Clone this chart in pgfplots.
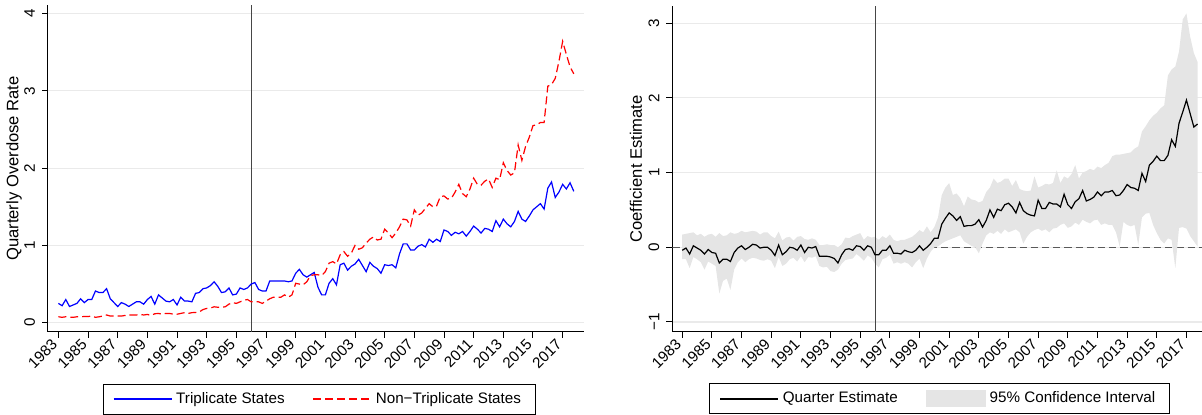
\documentclass[border=0pt]{standalone}
\usepackage{fontspec}
\setmainfont{Liberation Sans}
\usepackage{pgfplots}
\pgfplotsset{compat=1.18}
\usepackage{pgfplotstable}
\definecolor{gridgray}{RGB}{234,234,234}
\definecolor{cigray}{RGB}{229,229,229}
\definecolor{vgray}{RGB}{70,70,70}
\definecolor{sblue}{RGB}{0,0,255}
\definecolor{sred}{RGB}{255,0,0}

\pgfplotstableread{
t tri non
1983 0.25 0.077
1983.25 0.22 0.070
1983.5 0.30 0.077
1983.75 0.21 0.070
1984 0.23 0.070
1984.25 0.25 0.077
1984.5 0.31 0.077
1984.75 0.26 0.080
1985 0.30 0.080
1985.25 0.30 0.086
1985.5 0.41 0.070
1985.75 0.39 0.077
1986 0.39 0.086
1986.25 0.44 0.100
1986.5 0.31 0.086
1986.75 0.26 0.086
1987 0.21 0.086
1987.25 0.26 0.086
1987.5 0.24 0.094
1987.75 0.21 0.100
1988 0.24 0.100
1988.25 0.27 0.100
1988.5 0.27 0.107
1988.75 0.24 0.100
1989 0.30 0.107
1989.25 0.34 0.094
1989.5 0.24 0.116
1989.75 0.36 0.120
1990 0.32 0.110
1990.25 0.28 0.120
1990.5 0.27 0.120
1990.75 0.30 0.110
1991 0.23 0.110
1991.25 0.33 0.120
1991.5 0.28 0.130
1991.75 0.28 0.120
1992 0.27 0.130
1992.25 0.38 0.133
1992.5 0.39 0.140
1992.75 0.44 0.170
1993 0.45 0.185
1993.25 0.48 0.190
1993.5 0.53 0.206
1993.75 0.47 0.200
1994 0.39 0.200
1994.25 0.40 0.206
1994.5 0.45 0.240
1994.75 0.36 0.260
1995 0.37 0.250
1995.25 0.45 0.270
1995.5 0.43 0.290
1995.75 0.45 0.300
1996 0.50 0.270
1996.25 0.52 0.270
1996.5 0.43 0.270
1996.75 0.41 0.250
1997 0.41 0.280
1997.25 0.54 0.310
1997.5 0.54 0.330
1997.75 0.54 0.330
1998 0.54 0.330
1998.25 0.54 0.360
1998.5 0.53 0.330
1998.75 0.54 0.360
1999 0.64 0.510
1999.25 0.69 0.500
1999.5 0.62 0.490
1999.75 0.59 0.530
2000 0.62 0.610
2000.25 0.65 0.620
2000.5 0.46 0.620
2000.75 0.36 0.610
2001 0.36 0.660
2001.25 0.51 0.770
2001.5 0.57 0.790
2001.75 0.49 0.760
2002 0.75 0.880
2002.25 0.77 0.920
2002.5 0.68 0.860
2002.75 0.73 0.900
2003 0.76 1.000
2003.25 0.82 0.950
2003.5 0.74 0.970
2003.75 0.66 1.030
2004 0.78 1.080
2004.25 0.73 1.110
2004.5 0.70 1.070
2004.75 0.64 1.080
2005 0.75 1.210
2005.25 0.74 1.160
2005.5 0.75 1.100
2005.75 0.71 1.160
2006 0.89 1.240
2006.25 1.02 1.340
2006.5 1.02 1.330
2006.75 0.94 1.250
2007 0.94 1.460
2007.25 0.99 1.390
2007.5 1.01 1.420
2007.75 0.98 1.480
2008 1.08 1.540
2008.25 1.04 1.500
2008.5 1.08 1.510
2008.75 1.05 1.630
2009 1.20 1.640
2009.25 1.18 1.600
2009.5 1.13 1.610
2009.75 1.17 1.690
2010 1.15 1.790
2010.25 1.18 1.670
2010.5 1.12 1.630
2010.75 1.18 1.730
2011 1.25 1.870
2011.25 1.21 1.790
2011.5 1.16 1.780
2011.75 1.22 1.830
2012 1.21 1.860
2012.25 1.18 1.750
2012.5 1.32 1.870
2012.75 1.24 1.850
2013 1.34 2.070
2013.25 1.28 1.970
2013.5 1.24 1.910
2013.75 1.31 1.940
2014 1.44 2.300
2014.25 1.34 2.100
2014.5 1.31 2.280
2014.75 1.38 2.400
2015 1.46 2.550
2015.25 1.50 2.560
2015.5 1.54 2.590
2015.75 1.47 2.590
2016 1.74 3.060
2016.25 1.82 3.080
2016.5 1.62 3.160
2016.75 1.69 3.380
2017 1.79 3.640
2017.25 1.73 3.470
2017.5 1.81 3.310
2017.75 1.70 3.220
}\rates

\pgfplotstableread{
t est
1983 -0.04
1983.25 -0.01
1983.5 -0.09
1983.75 0.02
1984 -0.01
1984.25 -0.04
1984.5 -0.09
1984.75 -0.03
1985 -0.07
1985.25 -0.08
1985.5 -0.21
1985.75 -0.16
1986 -0.16
1986.25 -0.19
1986.5 -0.07
1986.75 -0.01
1987 0.02
1987.25 -0.03
1987.5 0.00
1987.75 0.04
1988 0.03
1988.25 -0.01
1988.5 0.00
1988.75 0.00
1989 -0.04
1989.25 -0.11
1989.5 0.03
1989.75 -0.10
1990 -0.06
1990.25 0.00
1990.5 -0.01
1990.75 -0.04
1991 0.03
1991.25 -0.07
1991.5 0.00
1991.75 -0.01
1992 0.01
1992.25 -0.12
1992.5 -0.12
1992.75 -0.12
1993 -0.13
1993.25 -0.15
1993.5 -0.21
1993.75 -0.10
1994 -0.03
1994.25 -0.02
1994.5 -0.04
1994.75 0.02
1995 0.01
1995.25 -0.04
1995.5 0.02
1995.75 0.00
1996 -0.10
1996.25 -0.10
1996.5 -0.04
1996.75 -0.04
1997 0.02
1997.25 -0.08
1997.5 -0.08
1997.75 -0.09
1998 -0.04
1998.25 -0.06
1998.5 -0.07
1998.75 -0.04
1999 0.02
1999.25 -0.04
1999.5 0.00
1999.75 0.05
2000 0.12
2000.25 0.12
2000.5 0.31
2000.75 0.39
2001 0.46
2001.25 0.42
2001.5 0.36
2001.75 0.41
2002 0.28
2002.25 0.29
2002.5 0.29
2002.75 0.31
2003 0.37
2003.25 0.27
2003.5 0.36
2003.75 0.50
2004 0.40
2004.25 0.51
2004.5 0.49
2004.75 0.57
2005 0.59
2005.25 0.54
2005.5 0.46
2005.75 0.60
2006 0.49
2006.25 0.45
2006.5 0.43
2006.75 0.42
2007 0.63
2007.25 0.52
2007.5 0.52
2007.75 0.60
2008 0.58
2008.25 0.58
2008.5 0.54
2008.75 0.71
2009 0.57
2009.25 0.52
2009.5 0.61
2009.75 0.65
2010 0.76
2010.25 0.62
2010.5 0.64
2010.75 0.67
2011 0.74
2011.25 0.69
2011.5 0.74
2011.75 0.74
2012 0.76
2012.25 0.69
2012.5 0.70
2012.75 0.76
2013 0.84
2013.25 0.80
2013.5 0.79
2013.75 0.76
2014 0.99
2014.25 0.88
2014.5 1.10
2014.75 1.15
2015 1.22
2015.25 1.16
2015.5 1.16
2015.75 1.23
2016 1.44
2016.25 1.35
2016.5 1.66
2016.75 1.81
2017 1.97
2017.25 1.79
2017.5 1.61
2017.75 1.65
}\coef

% 95% CI band: upper bound forward in time, then lower bound backward
\pgfplotstableread{
t ci
1983 0.17
1983.25 0.18
1983.5 0.19
1983.75 0.20
1984 0.16
1984.25 0.18
1984.5 0.14
1984.75 0.17
1985 0.18
1985.25 0.14
1985.5 0.19
1985.75 0.15
1986 0.16
1986.25 0.20
1986.5 0.18
1986.75 0.19
1987 0.22
1987.25 0.20
1987.5 0.21
1987.75 0.22
1988 0.21
1988.25 0.17
1988.5 0.20
1988.75 0.20
1989 0.15
1989.25 0.12
1989.5 0.21
1989.75 0.09
1990 0.13
1990.25 0.14
1990.5 0.09
1990.75 0.14
1991 0.15
1991.25 0.11
1991.5 0.10
1991.75 0.12
1992 0.10
1992.25 0.03
1992.5 0.03
1992.75 0.04
1993 0.03
1993.25 0.03
1993.5 0.00
1993.75 0.04
1994 0.13
1994.25 0.12
1994.5 0.15
1994.75 0.17
1995 0.19
1995.25 0.10
1995.5 0.15
1995.75 0.13
1996 0.14
1996.25 0.10
1996.5 0.15
1996.75 0.12
1997 0.17
1997.25 0.10
1997.5 0.08
1997.75 0.10
1998 0.10
1998.25 0.12
1998.5 0.14
1998.75 0.18
1999 0.23
1999.25 0.20
1999.5 0.28
1999.75 0.20
2000 0.27
2000.25 0.40
2000.5 0.70
2000.75 0.80
2001 0.86
2001.25 0.70
2001.5 0.72
2001.75 0.66
2002 0.55
2002.25 0.68
2002.5 0.64
2002.75 0.63
2003 0.60
2003.25 0.62
2003.5 0.74
2003.75 0.80
2004 0.92
2004.25 0.86
2004.5 0.88
2004.75 0.92
2005 0.92
2005.25 0.82
2005.5 0.90
2005.75 0.78
2006 0.76
2006.25 0.75
2006.5 0.76
2006.75 0.95
2007 0.80
2007.25 0.82
2007.5 0.85
2007.75 0.84
2008 0.86
2008.25 1.03
2008.5 0.86
2008.75 0.95
2009 0.92
2009.25 0.98
2009.5 1.10
2009.75 0.92
2010 1.00
2010.25 1.02
2010.5 1.05
2010.75 1.03
2011 1.08
2011.25 1.06
2011.5 1.10
2011.75 1.13
2012 1.22
2012.25 1.24
2012.5 1.24
2012.75 1.25
2013 1.26
2013.25 1.27
2013.5 1.32
2013.75 1.35
2014 1.55
2014.25 1.62
2014.5 1.70
2014.75 1.76
2015 1.80
2015.25 1.86
2015.5 1.90
2015.75 2.30
2016 2.38
2016.25 2.42
2016.5 2.62
2016.75 3.05
2017 3.13
2017.25 2.82
2017.5 2.60
2017.75 2.48
2017.75 0.01
2017.5 0.08
2017.25 0.15
2017 0.25
2016.75 0.27
2016.5 0.26
2016.25 -0.28
2016 0.10
2015.75 0.12
2015.5 0.05
2015.25 0.10
2015 0.19
2014.75 0.30
2014.5 0.46
2014.25 0.45
2014 0.40
2013.75 0.03
2013.5 0.30
2013.25 0.28
2013 0.30
2012.75 0.34
2012.5 0.01
2012.25 0.20
2012 0.30
2011.75 0.30
2011.5 0.32
2011.25 0.30
2011 0.37
2010.75 0.36
2010.5 0.32
2010.25 0.34
2010 0.37
2009.75 0.30
2009.5 0.33
2009.25 0.28
2009 0.26
2008.75 0.32
2008.5 0.30
2008.25 0.26
2008 0.25
2007.75 0.20
2007.5 0.24
2007.25 0.22
2007 0.25
2006.75 0.23
2006.5 0.20
2006.25 0.14
2006 0.05
2005.75 0.20
2005.5 0.24
2005.25 0.22
2005 0.20
2004.75 0.24
2004.5 0.18
2004.25 0.22
2004 0.18
2003.75 0.20
2003.5 0.16
2003.25 0.05
2003 -0.08
2002.75 0.00
2002.5 0.02
2002.25 0.05
2002 0.08
2001.75 0.16
2001.5 0.14
2001.25 0.12
2001 0.10
2000.75 0.08
2000.5 0.05
2000.25 0.01
2000 0.00
1999.75 -0.06
1999.5 -0.15
1999.25 -0.28
1999 -0.15
1998.75 -0.20
1998.5 -0.27
1998.25 -0.22
1998 -0.20
1997.75 -0.22
1997.5 -0.20
1997.25 -0.22
1997 -0.10
1996.75 -0.14
1996.5 -0.16
1996.25 -0.27
1996 -0.22
1995.75 -0.14
1995.5 -0.11
1995.25 -0.18
1995 -0.13
1994.75 -0.09
1994.5 -0.15
1994.25 -0.16
1994 -0.17
1993.75 -0.22
1993.5 -0.30
1993.25 -0.33
1993 -0.32
1992.75 -0.26
1992.5 -0.27
1992.25 -0.25
1992 -0.12
1991.75 -0.14
1991.5 -0.13
1991.25 -0.20
1991 -0.12
1990.75 -0.19
1990.5 -0.14
1990.25 -0.16
1990 -0.22
1989.75 -0.25
1989.5 -0.13
1989.25 -0.28
1989 -0.18
1988.75 -0.16
1988.5 -0.18
1988.25 -0.17
1988 -0.15
1987.75 -0.14
1987.5 -0.16
1987.25 -0.20
1987 -0.15
1986.75 -0.20
1986.5 -0.30
1986.25 -0.57
1986 -0.42
1985.75 -0.45
1985.5 -0.62
1985.25 -0.25
1985 -0.22
1984.75 -0.19
1984.5 -0.30
1984.25 -0.20
1984 -0.16
1983.75 -0.13
1983.5 -0.28
1983.25 -0.16
1983 -0.16
}\ciband

\pgfplotsset{
  statastyle/.style={
    scale only axis,
    anchor=south west,
    axis x line*=bottom, axis y line*=left,
    axis line style={-, black, line width=0.5pt},
    tick align=outside, major tick length=3pt,
    tick style={black, line width=0.5pt},
    xtick={1983,1985,...,2017},
    minor tick num=0,
    ymajorgrids, grid style={gridgray, line width=0.6pt},
    ticklabel style={font=\fontsize{7.6}{9}\selectfont},
    /pgf/number format/assume math mode=true,
    xticklabel style={rotate=45, anchor=east, xshift=0.8pt, /pgf/number format/1000 sep={}},
    yticklabel style={rotate=90, anchor=south},
    label style={font=\fontsize{8.3}{9.5}\selectfont},
    legend columns=2,
    legend cell align=left,
    legend style={draw=black, line width=0.5pt, font=\fontsize{7.6}{9}\selectfont,
      anchor=center, inner xsep=5pt, inner ysep=2pt,
      /tikz/every even column/.append style={column sep=12pt}},
    legend image code/.code={\draw[##1] (0pt,0pt) -- (29pt,0pt);},
  }
}

\begin{document}
\begin{tikzpicture}
\useasboundingbox (0,0) rectangle (601pt,207.5pt);
% left panel
\begin{axis}[statastyle,
  at={(24pt,41.5pt)},
  width=268pt, height=163.5pt,
  xmin=1982.30, xmax=2018.44,
  ymin=-0.12, ymax=4.11,
  ytick={0,1,2,3,4},
  ylabel={Quarterly Overdose Rate},
  ylabel style={at={(axis description cs:-0.0634,0.5)}, anchor=center},
  legend style={at={(0.5056,-0.205)}},
]
\addplot[vgray, line width=0.55pt, forget plot] coordinates {(1996,-0.12) (1996,4.11)};
\addplot[sblue, line width=0.6pt] table[x=t, y=tri] {\rates};
\addlegendentry{Triplicate States}
\addplot[sred, line width=0.6pt, dash pattern=on 4pt off 2pt] table[x=t, y=non] {\rates};
\addlegendentry{Non−Triplicate States}
\end{axis}
% right panel
\begin{axis}[statastyle,
  at={(336.15pt,41.65pt)},
  width=264.85pt, height=162.85pt,
  xmin=1982.33, xmax=2018.05,
  ymin=-1.13, ymax=3.23,
  ytick={-1,0,1,2,3},
  yticklabels={−1,0,1,2,3},
  ylabel={Coefficient Estimate},
  ylabel style={at={(axis description cs:-0.0685,0.5)}, anchor=center},
  legend style={at={(0.5044,-0.2066)}},
]
\addplot[black!65, line width=0.55pt, dash pattern=on 3.6pt off 2pt, forget plot] coordinates {(1982.33,0) (2018.05,0)};
\addplot[fill=cigray, draw=none, forget plot] table[x=t, y=ci] {\ciband};
\addplot[vgray, line width=0.5pt, forget plot] coordinates {(1996,-1.13) (1996,3.23)};
\addplot[black, line width=0.6pt] table[x=t, y=est] {\coef};
\addlegendentry{Quarter Estimate}
\addlegendimage{legend image code/.code={\fill[cigray] (0pt,-4pt) rectangle (29.5pt,4pt);}}
\addlegendentry{95\% Confidence Interval}
\end{axis}
\end{tikzpicture}
\end{document}
